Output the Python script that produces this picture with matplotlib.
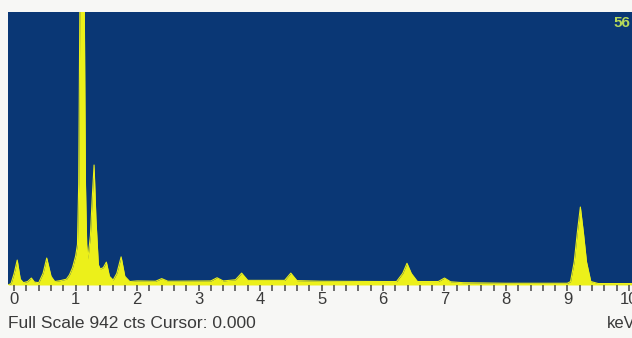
import numpy as np
import matplotlib
matplotlib.use("Agg")
import matplotlib.pyplot as plt

# EDS spectrum (energy in keV, counts)
energy = [-0.10, -0.05, 0.00, 0.05, 0.10, 0.15, 0.22, 0.28, 0.33, 0.40,
          0.47, 0.53, 0.60, 0.66, 0.75, 0.85, 0.90, 0.95, 1.00, 1.03,
          1.05, 1.07, 1.14, 1.16, 1.18, 1.20, 1.24, 1.27, 1.30, 1.33,
          1.37, 1.40, 1.45, 1.50, 1.55, 1.61, 1.67, 1.74, 1.80, 1.88,
          2.00, 2.30, 2.40, 2.50, 3.20, 3.30, 3.40, 3.60, 3.70, 3.80,
          4.40, 4.50, 4.60, 5.00, 6.00, 6.22, 6.32, 6.39, 6.46, 6.56,
          6.90, 7.00, 7.10, 7.30, 8.00, 9.00, 9.05, 9.11, 9.16, 9.21,
          9.26, 9.31, 9.38, 9.50, 10.10]
counts = [0, 5, 40, 86, 20, 8, 12, 24, 10, 8,
          40, 93, 30, 12, 15, 20, 35, 60, 100, 140,
          350, 1000, 1000, 350, 140, 90, 170, 300, 414, 230,
          70, 55, 60, 79, 30, 17, 40, 97, 30, 12,
          14, 13, 22, 13, 14, 25, 14, 18, 41, 16,
          16, 41, 15, 13, 12, 12, 40, 75, 40, 12,
          12, 24, 11, 8, 6, 6, 12, 80, 180, 269,
          180, 80, 12, 5, 5]

full_scale = 942
cursor = 0.000
major_ticks = list(range(0, 11))
minor_ticks = [round(0.2 * i, 1) for i in range(51)]

bg_blue = "#0a3775"
yellow = "#ecf01a"
text_grey = "#3a3a3a"

fig = plt.figure(figsize=(6.32, 3.38), dpi=100)
fig.patch.set_facecolor("#f7f7f5")
ax = fig.add_axes([8 / 632, 53 / 338, 624 / 632, 273 / 338])
ax.set_facecolor(bg_blue)

ax.fill_between(energy, counts, 0, color=yellow, linewidth=0)
ax.plot(energy, counts, color=yellow, linewidth=0.8)

ax.set_xlim(-0.10, 10.05)
ax.set_ylim(0, full_scale)
ax.set_yticks([])
ax.set_xticks(major_ticks)
ax.set_xticks(minor_ticks, minor=True)
ax.set_xticklabels([str(t) for t in major_ticks], fontsize=12,
                   color=text_grey, family="Liberation Sans")
ax.tick_params(axis="x", which="both", direction="out", length=4,
               width=1.2, color="#555555", pad=1)
for s in ax.spines.values():
    s.set_visible(False)

ax.text(0.998, 0.985, "56", transform=ax.transAxes, ha="right", va="top",
        fontsize=11, color="#b5d85a", fontweight="bold",
        family="Liberation Sans")

fig.text(8 / 632, 1 - 323 / 338,
         f"Full Scale {full_scale} cts Cursor: {cursor:.3f}",
         ha="left", va="center", fontsize=12.5, color=text_grey,
         family="Liberation Sans")
fig.text(607 / 632, 1 - 324 / 338, "keV", ha="left", va="center",
         fontsize=12, color=text_grey, family="Liberation Sans")

fig.savefig("out.png", dpi=100, facecolor=fig.get_facecolor())
